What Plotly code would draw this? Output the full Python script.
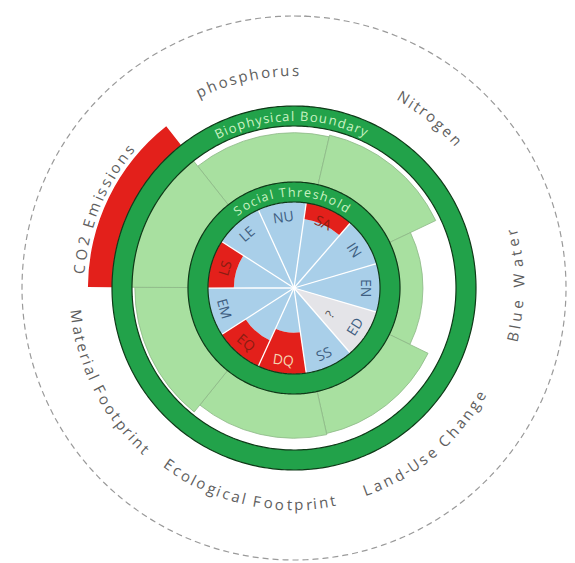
import numpy as np
import plotly.graph_objects as go

# ---------------- data ----------------
social_labels = ["NU", "SA", "IN", "EN", "ED", "SS", "DQ", "EQ", "EM", "LS", "LE"]
# achievement relative to the social threshold (1 = threshold met, None = no data)
social_values = [1.0, 0.81, 1.0, 1.0, None, 1.0, 0.52, 0.67, 1.0, 0.70, 1.0]

bio_labels = ["phosphorus", "Nitrogen", "Blue Water", "Land-Use Change",
              "Ecological Footprint", "Material Footprint", "CO2 Emissions"]
# use relative to the biophysical boundary (1 = boundary)
bio_values = [0.88, 0.91, 0.41, 0.77, 0.79, 0.95, 1.43]

ring_labels = ["Biophysical Boundary", "Social Threshold"]

# ---------------- geometry / style ----------------
W, H = 575, 563
PAGE_OFF = 8            # default body margin of the html page
CX, CY = 294 - PAGE_OFF, 288 - PAGE_OFF
RMAX = 275
R_SOC = 86
R_SOC_OUT = 106
R_BIO_IN = 162
R_BIO_OUT = 182
R_DASH = 272

C_RING = "#22a24a"
C_LIGHT = "#a8e0a0"
C_RED = "#e3201b"
C_BLUE = "#a9cfe9"
C_GREY = "#e4e4e8"

n_soc = len(social_labels)
soc_step = 360 / n_soc
soc_theta = [(-8.2 + i * soc_step) % 360 for i in range(n_soc)]
n_bio = len(bio_labels)
bio_step = 360 / n_bio
bio_theta = [(-12.6 + i * bio_step) % 360 for i in range(n_bio)]


def bio_radius(v):
    return R_SOC_OUT + (R_BIO_IN - R_SOC_OUT) * min(v, 1.0) + (2 if v > 1 else 0)


fig = go.Figure()

# biophysical wedges (light green)
fig.add_trace(go.Barpolar(
    theta=bio_theta, width=[bio_step] * n_bio,
    base=[R_SOC_OUT] * n_bio,
    r=[bio_radius(v) - R_SOC_OUT for v in bio_values],
    marker=dict(color=C_LIGHT, line=dict(color="#8db887", width=0.8)),
    hoverinfo="skip", showlegend=False))

# overshoot (red, beyond boundary ring)
over_t = [t for t, v in zip(bio_theta, bio_values) if v > 1]
over_r = [(R_BIO_IN - R_SOC_OUT) * (v - 1) for v in bio_values if v > 1]
fig.add_trace(go.Barpolar(
    theta=over_t, width=[bio_step] * len(over_t), base=[R_BIO_OUT] * len(over_t),
    r=over_r, marker=dict(color=C_RED, line=dict(width=0)),
    hoverinfo="skip", showlegend=False))

# social wedges
blue_t, blue_r, grey_t = [], [], []
red_t, red_b, red_r = [], [], []
for t, v in zip(soc_theta, social_values):
    if v is None:
        grey_t.append(t)
        continue
    blue_t.append(t)
    blue_r.append(R_SOC * min(v, 1.0))
    if v < 1:
        red_t.append(t)
        red_b.append(R_SOC * v)
        red_r.append(R_SOC * (1 - v))

fig.add_trace(go.Barpolar(theta=blue_t, width=[soc_step] * len(blue_t), base=[0] * len(blue_t),
                          r=blue_r, marker=dict(color=C_BLUE, line=dict(width=0)),
                          hoverinfo="skip", showlegend=False))
fig.add_trace(go.Barpolar(theta=grey_t, width=[soc_step] * len(grey_t), base=[0] * len(grey_t),
                          r=[R_SOC] * len(grey_t), marker=dict(color=C_GREY, line=dict(width=0)),
                          hoverinfo="skip", showlegend=False))
fig.add_trace(go.Barpolar(theta=red_t, width=[soc_step] * len(red_t), base=red_b,
                          r=red_r, marker=dict(color=C_RED, line=dict(width=0)),
                          hoverinfo="skip", showlegend=False))

# white dividers between social wedges
for t in soc_theta:
    b = t - soc_step / 2
    fig.add_trace(go.Scatterpolar(r=[0, R_SOC], theta=[b, b], mode="lines",
                                  line=dict(color="white", width=1.3),
                                  hoverinfo="skip", showlegend=False))

circ = np.linspace(0, 365, 400)


def ring(r_in, r_out):
    mid = (r_in + r_out) / 2
    fig.add_trace(go.Scatterpolar(r=[mid] * len(circ), theta=circ, mode="lines",
                                  line=dict(color=C_RING, width=r_out - r_in),
                                  hoverinfo="skip", showlegend=False))
    for rr in (r_in, r_out):
        fig.add_trace(go.Scatterpolar(r=[rr] * len(circ), theta=circ, mode="lines",
                                      line=dict(color="#0f3a18", width=1.2),
                                      hoverinfo="skip", showlegend=False))


ring(R_SOC, R_SOC_OUT)
ring(R_BIO_IN, R_BIO_OUT)

# dashed outer circle
fig.add_trace(go.Scatterpolar(r=[R_DASH] * len(circ), theta=circ, mode="lines",
                              line=dict(color="#9a9a9a", width=1.2, dash="6px,4px"),
                              hoverinfo="skip", showlegend=False))

# ---------------- text ----------------
WID = {'a': .56, 'b': .61, 'c': .48, 'd': .61, 'e': .56, 'f': .34, 'g': .54, 'h': .61,
       'i': .26, 'j': .26, 'k': .52, 'l': .26, 'm': .93, 'n': .61, 'o': .6, 'p': .61,
       'q': .61, 'r': .41, 's': .48, 't': .35, 'u': .61, 'v': .5, 'w': .78, 'x': .52,
       'y': .5, 'z': .47, ' ': .3, '-': .32, 'B': .63, 'C': .63, 'E': .56, 'F': .52,
       'L': .52, 'M': .9, 'N': .76, 'W': .92, 'O': .78, '2': .57, 'S': .55, 'T': .55,
       'D': .72, 'Q': .78}

annotations = []


def to_paper(r, th):
    a = np.radians(th)
    px = CX + r * np.sin(a)
    py = CY - r * np.cos(a)
    return px / W, 1 - py / H


def norm(a):
    a = (a + 180) % 360 - 180
    return a


def arc_text(text, th_c, span, r, size, color, top=True, family="Open Sans"):
    ws = [WID.get(ch, .58) for ch in text]
    tot = sum(ws)
    cum = 0
    for ch, w in zip(text, ws):
        frac = (cum + w / 2) / tot
        cum += w
        if ch == ' ':
            continue
        if top:
            th = th_c - span / 2 + frac * span
            ang = norm(th)
        else:
            th = th_c + span / 2 - frac * span
            ang = norm(th - 180)
        x, y = to_paper(r, th)
        annotations.append(dict(x=x, y=y, xref="paper", yref="paper", text=ch,
                                showarrow=False, textangle=ang, xanchor="center",
                                yanchor="middle",
                                font=dict(size=size, color=color, family=family)))


bio_span = [28.6, 21.0, 30, 42.6, 48, 43, 38]
bio_rad = [218, 220, 224, 214, 216, 219, 216]
bio_centers = [-12.7, 38.5, 89.5, 140, 192.7, 243.4, 292.3]
for lab, c, s, rr in zip(bio_labels, bio_centers, bio_span, bio_rad):
    top = (c % 360) > 270 or (c % 360) < 80
    arc_text(lab, c, s, rr, 15, "#5e5e5e", top=top)

arc_text(ring_labels[0], -1, 53, 172, 13, "#c9f3c2", top=True)
arc_text(ring_labels[1], -1.5, 74, 96, 12.5, "#c9f3c2", top=True)

for lab, t, v in zip(social_labels, soc_theta, social_values):
    top = t > 270 or t <= 90
    ang = norm(t) if top else norm(t - 180)
    col = "#3f5f82"
    if v is not None and v < 1:
        col = "#f6d7b4" if lab == "DQ" else "#8a1d12"
    x, y = to_paper(72, t)
    annotations.append(dict(x=x, y=y, xref="paper", yref="paper", text=lab,
                            showarrow=False, textangle=ang, xanchor="center",
                            yanchor="middle",
                            font=dict(size=14, color=col, family="Open Sans")))
    if v is None:
        x, y = to_paper(44, t + 4)
        annotations.append(dict(x=x, y=y, xref="paper", yref="paper", text="?",
                                showarrow=False, textangle=norm(t - 180),
                                xanchor="center", yanchor="middle",
                                font=dict(size=12, color="#555555", family="Open Sans")))

fig.update_layout(
    width=W, height=H, margin=dict(l=0, r=0, t=0, b=0),
    paper_bgcolor="white", plot_bgcolor="white", showlegend=False,
    polar=dict(
        domain=dict(x=[(CX - RMAX) / W, (CX + RMAX) / W],
                    y=[(H - CY - RMAX) / H, (H - CY + RMAX) / H]),
        bgcolor="white", barmode="overlay", bargap=0, hole=0,
        radialaxis=dict(range=[0, RMAX], visible=False, autorange=False),
        angularaxis=dict(rotation=90, direction="clockwise", visible=False,
                         showgrid=False, showline=False),
    ),
    annotations=annotations,
)

fig.write_html("out.html")
